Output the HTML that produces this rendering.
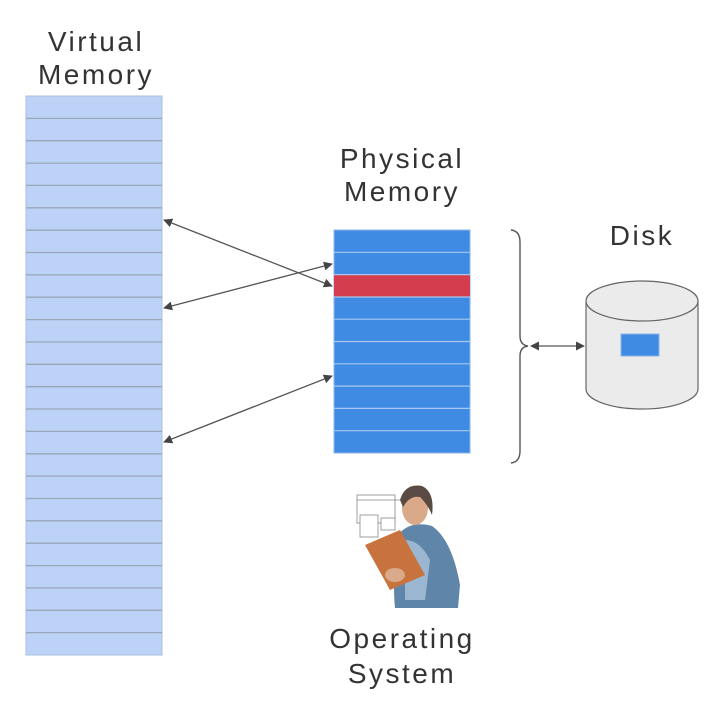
<!DOCTYPE html>
<html><head><meta charset="utf-8"><style>
html,body{margin:0;padding:0;background:#fff;}
svg{display:block}
text{font-family:"Liberation Sans",sans-serif;font-size:28px;letter-spacing:2.5px;fill:#333;text-anchor:middle}
</style></head><body>
<svg width="725" height="701" viewBox="0 0 725 701" xmlns="http://www.w3.org/2000/svg">
<defs>
<marker id="ah" viewBox="0 0 10 10" refX="9" refY="5" markerWidth="9" markerHeight="9" markerUnits="userSpaceOnUse" orient="auto-start-reverse"><path d="M0,0 L10,5 L0,10 z" fill="#444"/></marker>
</defs>
<text x="96" y="51">Virtual</text>
<text x="96" y="84">Memory</text>
<text x="402" y="168">Physical</text>
<text x="402" y="201">Memory</text>
<text x="642" y="245">Disk</text>
<text x="402" y="648">Operating</text>
<text x="402" y="683">System</text>

<!-- virtual memory -->
<rect x="26" y="96" width="136" height="559" fill="#bcd3f7" stroke="#a9bfe0" stroke-width="1"/>
<g stroke="#9aa6b8" stroke-width="1.3">
<line x1="26" x2="162" y1="118.4" y2="118.4"/><line x1="26" x2="162" y1="140.7" y2="140.7"/>
<line x1="26" x2="162" y1="163.1" y2="163.1"/><line x1="26" x2="162" y1="185.4" y2="185.4"/>
<line x1="26" x2="162" y1="207.8" y2="207.8"/><line x1="26" x2="162" y1="230.2" y2="230.2"/>
<line x1="26" x2="162" y1="252.5" y2="252.5"/><line x1="26" x2="162" y1="274.9" y2="274.9"/>
<line x1="26" x2="162" y1="297.2" y2="297.2"/><line x1="26" x2="162" y1="319.6" y2="319.6"/>
<line x1="26" x2="162" y1="342" y2="342"/><line x1="26" x2="162" y1="364.3" y2="364.3"/>
<line x1="26" x2="162" y1="386.7" y2="386.7"/><line x1="26" x2="162" y1="409" y2="409"/>
<line x1="26" x2="162" y1="431.4" y2="431.4"/><line x1="26" x2="162" y1="453.8" y2="453.8"/>
<line x1="26" x2="162" y1="476.1" y2="476.1"/><line x1="26" x2="162" y1="498.5" y2="498.5"/>
<line x1="26" x2="162" y1="520.8" y2="520.8"/><line x1="26" x2="162" y1="543.2" y2="543.2"/>
<line x1="26" x2="162" y1="565.6" y2="565.6"/><line x1="26" x2="162" y1="587.9" y2="587.9"/>
<line x1="26" x2="162" y1="610.3" y2="610.3"/><line x1="26" x2="162" y1="632.6" y2="632.6"/>
</g>

<!-- physical memory -->
<rect x="334" y="230" width="136" height="223" fill="#3f8ae3" stroke="#8fb6e8" stroke-width="1"/>
<rect x="334" y="275" width="136" height="22" fill="#d43d4e"/>
<g stroke="#a8c6ee" stroke-width="1.2">
<line x1="334" x2="470" y1="252.3" y2="252.3"/><line x1="334" x2="470" y1="274.6" y2="274.6"/>
<line x1="334" x2="470" y1="297" y2="297"/><line x1="334" x2="470" y1="319.2" y2="319.2"/>
<line x1="334" x2="470" y1="341.5" y2="341.5"/><line x1="334" x2="470" y1="363.8" y2="363.8"/>
<line x1="334" x2="470" y1="386.1" y2="386.1"/><line x1="334" x2="470" y1="408.4" y2="408.4"/>
<line x1="334" x2="470" y1="430.7" y2="430.7"/>
</g>

<!-- arrows -->
<g stroke="#555" stroke-width="1.3" fill="none">
<line x1="164" y1="220" x2="332" y2="286" marker-start="url(#ah)" marker-end="url(#ah)"/>
<line x1="164" y1="308" x2="332" y2="264" marker-start="url(#ah)" marker-end="url(#ah)"/>
<line x1="164" y1="442" x2="332" y2="376" marker-start="url(#ah)" marker-end="url(#ah)"/>
<line x1="531" y1="346" x2="584" y2="346" marker-start="url(#ah)" marker-end="url(#ah)"/>
</g>

<!-- brace -->
<path d="M511,230 Q520,231 520,242 L520,336 Q520,345 528,346 Q520,347 520,356 L520,451 Q520,462 511,463" stroke="#555" stroke-width="1.4" fill="none"/>

<!-- disk -->
<path d="M586,301 L586,389 A56,20 0 0 0 698,389 L698,301" fill="#ebebeb" stroke="#666" stroke-width="1.2"/>
<ellipse cx="642" cy="301" rx="56" ry="20" fill="#ebebeb" stroke="#666" stroke-width="1.2"/>
<rect x="621" y="334" width="38" height="22" fill="#3f8ae3" stroke="#8fb6e8"/>

<!-- operating system person -->
<g>
<g stroke="#888" stroke-width="0.8" fill="#fff">
<rect x="357" y="495" width="38" height="28"/>
<rect x="360" y="515" width="18" height="22"/>
<rect x="381" y="518" width="14" height="12"/>
<line x1="357" y1="500" x2="400" y2="500"/>
</g>
<path d="M398,535 Q410,520 432,526 Q452,540 460,585 L458,608 L395,608 Q392,580 398,535 z" fill="#5f86a8"/>
<path d="M405,540 Q420,540 430,560 L425,600 L405,600 z" fill="#9ab6d0"/>
<ellipse cx="415" cy="508" rx="13" ry="17" fill="#d9a98a"/>
<path d="M400,500 Q405,483 422,486 Q435,492 432,515 Q428,505 420,497 Q410,495 403,507 z" fill="#5a4a44"/>
<path d="M365,545 L400,530 L425,575 L390,590 z" fill="#c8733d"/>
<ellipse cx="395" cy="575" rx="10" ry="7" fill="#d9a98a"/>
</g>
</svg>
</body></html>
